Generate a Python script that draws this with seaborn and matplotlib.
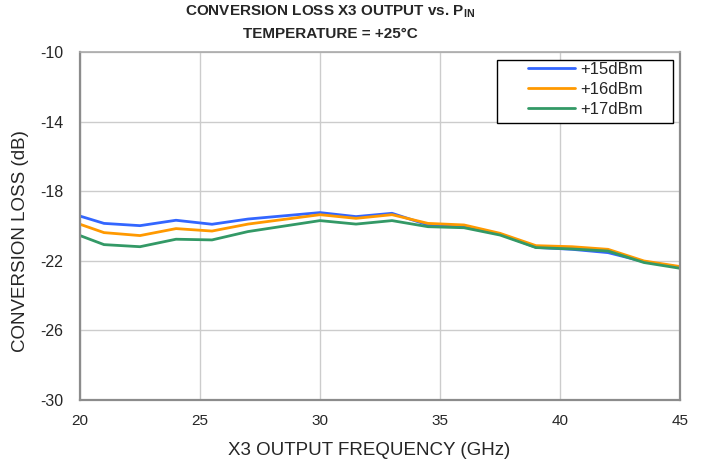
import matplotlib
matplotlib.use("Agg")
import matplotlib.pyplot as plt
from matplotlib.patches import Rectangle
import seaborn as sns
import pandas as pd

freq = [20, 21, 22.5, 24, 25.5, 27, 30, 31.5, 33, 34.5, 36, 37.5, 39, 40.5, 42, 43.5, 45]
p15 = [-19.43, -19.85, -19.98, -19.67, -19.90, -19.60, -19.23, -19.46, -19.27, -19.94, -20.04, -20.46, -21.23, -21.34, -21.53, -22.05, -22.37]
p16 = [-19.90, -20.38, -20.55, -20.15, -20.29, -19.89, -19.35, -19.56, -19.35, -19.85, -19.94, -20.42, -21.13, -21.19, -21.34, -22.01, -22.33]
p17 = [-20.55, -21.07, -21.19, -20.76, -20.80, -20.32, -19.69, -19.89, -19.69, -20.04, -20.10, -20.52, -21.24, -21.32, -21.44, -22.10, -22.43]
series_names = ["+15dBm", "+16dBm", "+17dBm"]
colors = ["#3366FF", "#FF9900", "#339966"]
x_ticks = [20, 25, 30, 35, 40, 45]
y_ticks = [-10, -14, -18, -22, -26, -30]

rows = []
for name, vals in zip(series_names, [p15, p16, p17]):
    for f, v in zip(freq, vals):
        rows.append({"freq": f, "loss": v, "pin": name})
df = pd.DataFrame(rows)

sns.set_style("white")
plt.rcParams["font.family"] = ["Liberation Sans", "DejaVu Sans"]
plt.rcParams["axes.unicode_minus"] = False
plt.rcParams["mathtext.fontset"] = "custom"
plt.rcParams["mathtext.rm"] = "Liberation Sans:bold"
plt.rcParams["mathtext.bf"] = "Liberation Sans:bold"

W, H = 705, 461
fig = plt.figure(figsize=(W / 100, H / 100), dpi=100)
ax = fig.add_axes([80 / W, 1 - 400 / H, 600 / W, 348 / H])

sns.lineplot(data=df, x="freq", y="loss", hue="pin", palette=colors,
             hue_order=series_names, ax=ax, linewidth=2.0, legend=True)

ax.set_xlim(20, 45)
ax.set_ylim(-30, -10)
ax.set_xticks(x_ticks)
ax.set_yticks(y_ticks)
ax.grid(True, color="#CCCCCC", linewidth=1.0)
ax.tick_params(axis="y", labelsize=11.5, length=4, width=1, color="#8C8C8C", pad=8, direction="out")
ax.tick_params(axis="x", labelsize=11, length=0, pad=10)
for s in ["left", "bottom", "right"]:
    ax.spines[s].set_color("#8C8C8C")
    ax.spines[s].set_linewidth(1.6)
ax.spines["top"].set_color("#AAAAAA")
ax.spines["top"].set_linewidth(1.2)

ax.set_xlabel("X3 OUTPUT FREQUENCY (GHz)", fontsize=13.5, va="center", ha="center")
ax.xaxis.set_label_coords((369 - 80) / 600, (400 - 450) / 348)
ax.set_ylabel("CONVERSION LOSS (dB)", fontsize=13.5, va="center", ha="center")
ax.yaxis.set_label_coords((21 - 80) / 600, (400 - 241) / 348)

fig.text(330 / W, 1 - 12 / H, r"CONVERSION LOSS X3 OUTPUT vs. P$_{\mathrm{IN}}$",
         ha="center", va="center", fontsize=11, fontweight="bold")
fig.text(330 / W, 1 - 34 / H, "TEMPERATURE = +25°C",
         ha="center", va="center", fontsize=11, fontweight="bold")

frame = Rectangle((497 / W, 1 - 123 / H), 176 / W, 63 / H, transform=fig.transFigure,
                  facecolor="white", edgecolor="black", linewidth=1.0, zorder=4)
ax.add_patch(frame)
frame.set_clip_on(False)

leg = ax.legend(loc="upper left", bbox_to_anchor=(528 / W, 1 - 62 / H),
                bbox_transform=fig.transFigure, frameon=False, fontsize=12,
                handlelength=2.82, borderpad=0, borderaxespad=0,
                labelspacing=0.3, handletextpad=0.3)
leg.set_zorder(5)

fig.savefig("out.png", dpi=100)
